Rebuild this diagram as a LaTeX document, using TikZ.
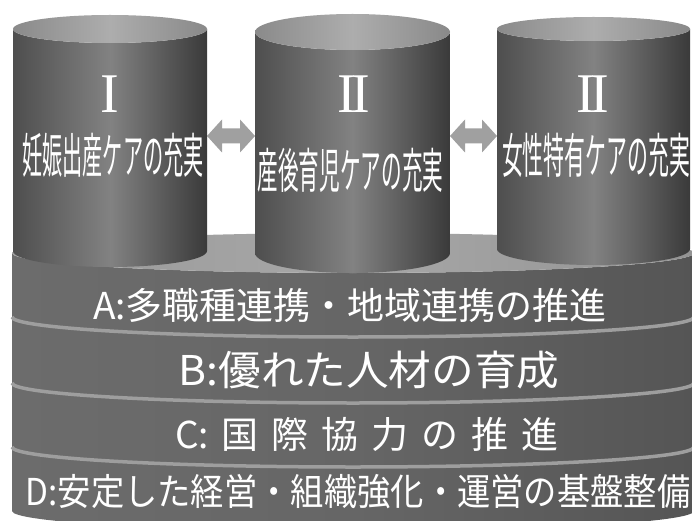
\documentclass[tikz,border=0pt]{standalone}
\usepackage{fontspec}
\usepackage{graphicx}
\newfontfamily\cjk{Noto Sans CJK JP}
\newfontfamily\romfont{Liberation Serif}
\definecolor{bandL}{HTML}{6C6C6C}
\definecolor{bandM}{HTML}{666666}
\definecolor{bandR}{HTML}{555555}
\definecolor{topL}{HTML}{989898}
\definecolor{topM}{HTML}{A8A8A8}
\definecolor{topR}{HTML}{939393}
\definecolor{rimc}{HTML}{9E9E9E}
\definecolor{cylL}{HTML}{4E4E4E}
\definecolor{cylM}{HTML}{828282}
\definecolor{cylR}{HTML}{3A3A3A}
\definecolor{ctopL}{HTML}{8A8A8A}
\definecolor{ctopM}{HTML}{ADADAD}
\definecolor{ctopR}{HTML}{898989}
\definecolor{arrowc}{HTML}{A0A0A0}
\newcommand\bandside[2]{%
  \shade[left color=bandL,right color=bandR,middle color=bandM]
    (12,#2) arc[start angle=180,end angle=0,x radius=341,y radius=20]
    -- (694,#1) arc[start angle=0,end angle=180,x radius=341,y radius=20] -- cycle;}
\newcommand\rimline[1]{%
  \draw[rimc,line width=3.5pt] (12,#1) arc[start angle=180,end angle=0,x radius=341,y radius=20];}
\newcommand\cylinder[6]{%
  \shade[left color=cylL,right color=cylR,middle color=cylM]
    (#1-#2,#3) -- (#1-#2,#5) arc[start angle=180,end angle=0,x radius=#2,y radius=#6]
    -- (#1+#2,#3) arc[start angle=0,end angle=180,x radius=#2,y radius=#4] -- cycle;
  \shade[left color=ctopL,right color=ctopR,middle color=ctopM]
    (#1,#3) ellipse[x radius=#2,y radius=#4];}
\newcommand\csp{\hspace{13pt}}
\tikzset{
  cyltext/.style={text=white,inner sep=0pt,font=\fontsize{48}{48}\selectfont\cjk},
  numtext/.style={text=white,inner sep=0pt,font=\fontsize{56}{56}\selectfont\romfont},
  bandtext/.style={text=white,inner sep=0pt},
}
\begin{document}
\begin{tikzpicture}[x=1pt,y=-1pt]
\useasboundingbox (0,0) rectangle (692,521);
\clip (0,0) rectangle (692,521);
\fill[white] (0,0) rectangle (692,521);
% platform
\bandside{447}{511}
\bandside{383}{447}
\bandside{317}{383}
\bandside{253}{317}
\rimline{317}
\rimline{383}
\rimline{447}
\shade[left color=topL,right color=topR,middle color=topM] (353,253) ellipse[x radius=341,y radius=20];
% arrows
\fill[arrowc] (207,136) -- (222,119.5) -- (222,128.5) -- (240,128.5) -- (240,119.5) -- (255,136)
  -- (240,152.5) -- (240,143.5) -- (222,143.5) -- (222,152.5) -- cycle;
\fill[arrowc] (450,136) -- (465,119.5) -- (465,128.5) -- (482,128.5) -- (482,119.5) -- (497,136)
  -- (482,152.5) -- (482,143.5) -- (465,143.5) -- (465,152.5) -- cycle;
% cylinders
\cylinder{110}{97}{29}{14}{251}{16}
\cylinder{352.5}{97.5}{32}{18}{253}{20}
\cylinder{593.5}{96.5}{29}{12}{249}{16}
% cylinder texts
\node[numtext] (n1) at (110,94) {I};
\node[numtext] (n2) at (353.5,94) {I\kern-4.5pt I};
\node[numtext] (n3) at (593,94) {I\kern-4.5pt I};
\node[cyltext] (c1) at (113,155) {\scalebox{0.42}[1]{妊娠出産ケアの充実}};
\node[cyltext] (c2) at (350.5,170) {\scalebox{0.43}[1]{産後育児ケアの充実}};
\node[cyltext] (c3) at (596,155) {\scalebox{0.435}[1]{女性特有ケアの充実}};
% band texts
\node[bandtext] (a) at (350,305) {\fontsize{37}{37}\selectfont\cjk A:多職種連携・地域連携の推進};
\node[bandtext] (b) at (369,370) {\fontsize{41}{41}\selectfont\cjk\scalebox{1.04}[1]{B:優れた人材の育成}};
\node[bandtext] (c) at (367,434) {\fontsize{37}{37}\selectfont\cjk C:\csp 国\csp 際\csp 協\csp 力\csp の\csp 推\csp 進};
\node[bandtext] (d) at (358,492) {\fontsize{37}{37}\selectfont\cjk\scalebox{0.9}[1]{D:安定した経営・組織強化・運営の基盤整備}};
\end{tikzpicture}
\end{document}
